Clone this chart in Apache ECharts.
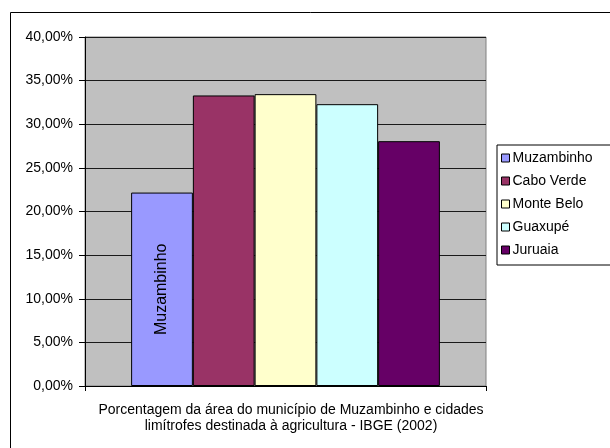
<!DOCTYPE html>
<html>
<head>
<meta charset="utf-8">
<script src="https://cdn.jsdelivr.net/npm/echarts@6/dist/echarts.min.js"></script>
<style>
  html, body { margin: 0; padding: 0; background: #fff; }
  #chart { width: 610px; height: 448px; }
</style>
</head>
<body>
<div id="chart"></div>
<script>
  // dados
  const cidades = ['Muzambinho', 'Cabo Verde', 'Monte Belo', 'Guaxupé', 'Juruaia'];
  const valores = [0.2217, 0.3330, 0.3345, 0.3230, 0.2806];
  const cores = ['#9999FF', '#993366', '#FFFFCC', '#CCFFFF', '#660066'];
  const categorias = [''];

  const fonte = '"Liberation Sans", Arial, sans-serif';

  const chart = echarts.init(document.getElementById('chart'));

  const series = cidades.map((nome, i) => ({
    name: nome,
    type: 'bar',
    data: [valores[i]],
    barGap: '0%',
    barCategoryGap: '23%',
    itemStyle: { color: cores[i], borderColor: '#000', borderWidth: 1 },
    label: i === 0 ? {
      show: true,
      position: 'inside',
      rotate: 90,
      formatter: '{a}',
      color: '#000',
      fontSize: 16,
      fontFamily: fonte
    } : { show: false },
    emphasis: { disabled: true }
  }));

  const option = {
    animation: false,
    textStyle: { fontFamily: fonte },
    title: {
      text: 'Porcentagem da área do município de Muzambinho e cidades\nlimítrofes destinada à agricultura - IBGE (2002)',
      left: 286,
      top: 397,
      textAlign: 'center',
      textStyle: { fontSize: 14, fontWeight: 'normal', color: '#000', lineHeight: 16, fontFamily: fonte }
    },
    graphic: [{
      type: 'rect',
      z: -10,
      shape: { x: 10.5, y: 12.5, width: 700, height: 500 },
      style: { fill: 'none', stroke: '#000', lineWidth: 1 }
    }],
    legend: {
      orient: 'vertical',
      left: 497,
      top: 145,
      itemWidth: 8,
      itemHeight: 8,
      itemGap: 9,
      icon: 'rect',
      padding: [6, 40, 8, 4],
      borderColor: '#000',
      borderWidth: 1,
      backgroundColor: '#fff',
      itemStyle: { borderColor: '#000', borderWidth: 1 },
      textStyle: { fontSize: 14, color: '#000', fontFamily: fonte, padding: [0, 0, 0, -2] },
      data: cidades
    },
    grid: {
      left: 85,
      top: 37,
      width: 401,
      height: 349,
      show: true,
      backgroundColor: '#C0C0C0',
      borderColor: '#808080',
      borderWidth: 1,
      containLabel: false
    },
    xAxis: {
      type: 'category',
      data: categorias,
      axisLine: { lineStyle: { color: '#000' } },
      axisTick: { show: true, length: 5, lineStyle: { color: '#000' } },
      axisLabel: { show: false },
      splitLine: { show: false }
    },
    yAxis: {
      type: 'value',
      min: 0,
      max: 0.4,
      interval: 0.05,
      axisLine: { show: true, lineStyle: { color: '#000' } },
      axisTick: { show: true, length: 6, lineStyle: { color: '#000' } },
      axisLabel: {
        color: '#000',
        fontSize: 14,
        margin: 12,
        formatter: v => (v * 100).toFixed(2).replace('.', ',') + '%'
      },
      splitLine: { show: true, lineStyle: { color: '#1a1a1a', width: 1 } }
    },
    series: series
  };

  chart.setOption(option);
</script>
</body>
</html>
